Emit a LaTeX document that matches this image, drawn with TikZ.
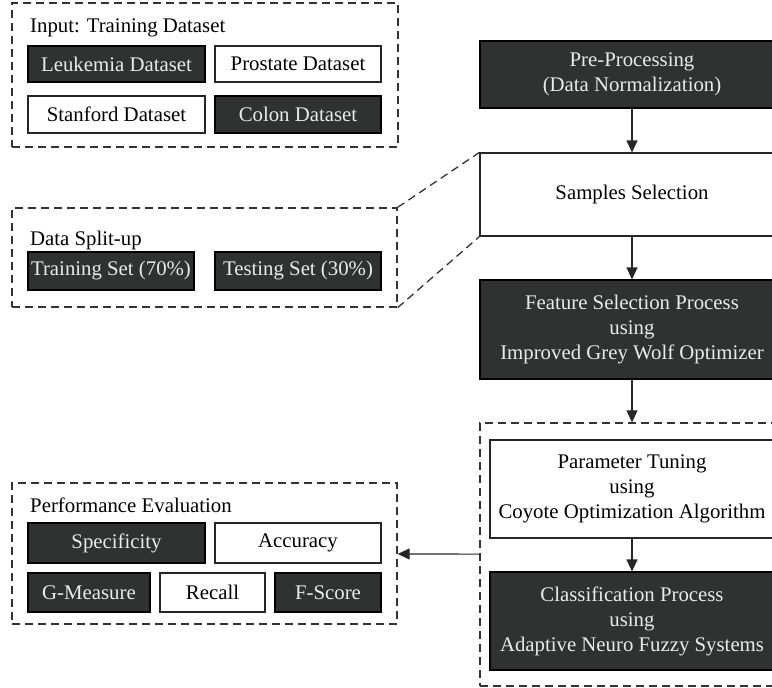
\documentclass[tikz,border=0pt]{standalone}
\usepackage{fontspec}
\setmainfont{Liberation Serif}
\usetikzlibrary{arrows.meta}
\definecolor{boxdark}{HTML}{303131}
\begin{document}
\begin{tikzpicture}[x=1pt,y=-1pt,
		font=\fontsize{20.8}{25}\selectfont,
		group/.style={draw=black!80,dashed,dash pattern=on 8pt off 5pt,line width=1.3pt,inner sep=0pt},
		darkbox/.style={draw=black,fill=boxdark,text=white!92!black,line width=1.2pt,inner sep=0pt,align=center},
		lightbox/.style={draw=black!85,fill=white,line width=1.2pt,inner sep=0pt,align=center},
		caption/.style={anchor=base west,inner sep=0pt},
		flow/.style={-{Triangle[length=12pt,width=11pt]},line width=1.2pt,draw=black!85}]
			\useasboundingbox (0,0) rectangle (772,688);
			\clip (0,0) rectangle (772,688);
			\node[group,minimum width=386pt,minimum height=144pt] (input) at (205,75) {};
			\node[caption] (inputtitle) at (30,32) {Input: Training Dataset};
			\node[darkbox,minimum width=177pt,minimum height=36pt] (leuk) at (116.5,64) {Leukemia Dataset};
			\node[lightbox,minimum width=166pt,minimum height=36pt] (prost) at (298,64) {Prostate Dataset};
			\node[lightbox,minimum width=177pt,minimum height=37pt] (stan) at (116.5,114.5) {Stanford Dataset};
			\node[darkbox,minimum width=166pt,minimum height=37pt] (colon) at (298,114.5) {Colon Dataset};
			\node[group,minimum width=385pt,minimum height=99pt] (split) at (204.5,257.5) {};
			\node[caption] (splittitle) at (30,245) {Data Split-up};
			\node[darkbox,minimum width=166pt,minimum height=38pt] (train) at (111,271) {Training Set (70\%)};
			\node[darkbox,minimum width=166pt,minimum height=38pt] (test) at (298,271) {Testing Set (30\%)};
			\node[group,minimum width=385pt,minimum height=141pt] (perf) at (204.5,553.5) {};
			\node[caption] (perftitle) at (30,512) {Performance Evaluation};
			\node[darkbox,minimum width=177pt,minimum height=40pt] (spec) at (116.5,543) {Specificity};
			\node[lightbox,minimum width=166pt,minimum height=40pt] (acc) at (298,543) {Accuracy};
			\node[darkbox,minimum width=122pt,minimum height=39pt] (gmeas) at (89,592.5) {G-Measure};
			\node[lightbox,minimum width=105pt,minimum height=39pt] (recall) at (212.5,592.5) {Recall};
			\node[darkbox,minimum width=106pt,minimum height=39pt] (fscore) at (328,592.5) {F-Score};
			\node[darkbox,minimum width=304pt,minimum height=67pt] (prep) at (632,74.5) {Pre-Processing\\(Data Normalization)};
			\node[lightbox,minimum width=304pt,minimum height=83pt] (samples) at (632,194.5) {Samples Selection};
			\node[darkbox,minimum width=304pt,minimum height=99pt] (feature) at (632,329.5) {Feature Selection Process\\using\\Improved Grey Wolf Optimizer};
			\node[group,minimum width=304pt,minimum height=263pt] (model) at (632,554.5) {};
			\node[lightbox,minimum width=284pt,minimum height=98pt] (tuning) at (632,489) {Parameter Tuning\\using\\Coyote Optimization Algorithm};
			\node[darkbox,minimum width=284pt,minimum height=98pt] (classify) at (632,621) {Classification Process\\using\\Adaptive Neuro Fuzzy Systems};
			\draw[group] (split.north east) -- (samples.north west);
			\draw[group] (split.south east) -- (samples.south west);
			\draw[flow] (prep) -- (samples);
			\draw[flow] (samples) -- (feature);
			\draw[flow] (feature) -- (model);
			\draw[flow] (tuning) -- (classify);
			\draw[flow] (model) -- (perf);
		\end{tikzpicture}
\end{document}
